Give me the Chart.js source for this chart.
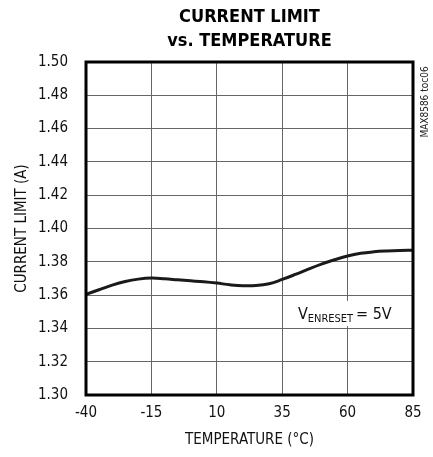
<!DOCTYPE html>
<html>
<head>
<meta charset="utf-8">
<script src="https://cdn.jsdelivr.net/npm/chart.js@4/dist/chart.umd.min.js"></script>
<style>
  html, body { margin: 0; padding: 0; background: #fff; }
  #wrap { width: 433px; height: 457px; position: relative; }
</style>
</head>
<body>
<div id="wrap"><canvas id="c" width="433" height="457"></canvas></div>
<script>
const FONT = '"Liberation Sans Narrow", "DejaVu Sans Condensed", "Arial Narrow", sans-serif';

// temperature (°C) and measured current limit (A)
const temps = [-40, -35, -30, -25, -20, -15, -10, -5, 0, 5, 10, 15, 20, 25, 30, 35, 40, 45, 50, 55, 60, 65, 70, 75, 80, 85];
const currentLimit = [1.3605, 1.3632, 1.3660, 1.3682, 1.3696, 1.3702, 1.3698, 1.3692, 1.3686, 1.3680, 1.3672, 1.3662, 1.3656, 1.3657, 1.3668, 1.3694, 1.3724, 1.3756, 1.3786, 1.3812, 1.3835, 1.3851, 1.3860, 1.3865, 1.3868, 1.3869];
const xTicks = [-40, -15, 10, 35, 60, 85];
const yTicks = [1.30, 1.32, 1.34, 1.36, 1.38, 1.40, 1.42, 1.44, 1.46, 1.48, 1.50];

const decorations = {
    id: 'decorations',
    afterDraw: (chart) => {
        const ctx = chart.ctx;
        const a = chart.chartArea;
        const xs = chart.scales.x, ys = chart.scales.y;
        ctx.save();

        // title
        ctx.fillStyle = '#000';
        ctx.textAlign = 'center';
        ctx.textBaseline = 'middle';
        ctx.font = 'bold 18px ' + FONT;
        const cx = (a.left + a.right) / 2;
        ctx.fillText('CURRENT LIMIT', cx, 17);
        ctx.fillText('vs. TEMPERATURE', cx, 41);

        // condition label box
        const bx = xs.getPixelForValue(38.7), by = ys.getPixelForValue(1.3565);
        const by2 = ys.getPixelForValue(1.3414);
        ctx.fillStyle = '#fff';
        ctx.fillRect(bx, by, a.right - bx, by2 - by);
        ctx.fillStyle = '#111';
        ctx.textAlign = 'left';
        ctx.textBaseline = 'alphabetic';
        const base = ys.getPixelForValue(1.3454);
        let tx = bx + 6;
        ctx.font = '16px ' + FONT;
        ctx.fillText('V', tx, base);
        tx += ctx.measureText('V').width;
        ctx.font = '11px ' + FONT;
        ctx.fillText('ENRESET', tx, base + 3);
        tx += ctx.measureText('ENRESET').width + 3;
        ctx.font = '16px ' + FONT;
        ctx.fillText('= 5V', tx, base);

        // plot frame
        ctx.strokeStyle = '#000';
        ctx.lineWidth = 3;
        ctx.strokeRect(a.left, a.top, a.right - a.left, a.bottom - a.top);

        // side id
        ctx.translate(a.right + 12, a.top + 40);
        ctx.rotate(-Math.PI / 2);
        ctx.font = '10px ' + FONT;
        ctx.textAlign = 'center';
        ctx.textBaseline = 'middle';
        ctx.fillStyle = '#222';
        ctx.fillText('MAX8586 toc06', 0, 0);
        ctx.restore();
    }
};

new Chart(document.getElementById('c'), {
    type: 'line',
    data: {
        datasets: [{
            data: temps.map((t, i) => ({ x: t, y: currentLimit[i] })),
            borderColor: '#1a1a1a',
            borderWidth: 3,
            pointRadius: 0,
            tension: 0.4,
            fill: false
        }]
    },
    options: {
        responsive: false,
        animation: false,
        devicePixelRatio: 1,
        layout: { padding: { top: 62, right: 20, left: 0, bottom: 0 } },
        plugins: {
            legend: { display: false },
            tooltip: { enabled: false }
        },
        scales: {
            x: {
                type: 'linear',
                min: -40, max: 85,
                afterBuildTicks: (s) => { s.ticks = xTicks.map(v => ({ value: v })); },
                afterFit: (s) => { s.height = 62; },
                grid: { color: '#666', lineWidth: 1, drawTicks: false },
                border: { display: false },
                ticks: {
                    color: '#111', padding: 9,
                    font: { family: FONT, size: 15 },
                    maxRotation: 0
                },
                title: {
                    display: true, text: 'TEMPERATURE (°C)', color: '#111',
                    font: { family: FONT, size: 15 },
                    padding: { top: 0, bottom: 8 }
                }
            },
            y: {
                min: 1.30, max: 1.50,
                afterBuildTicks: (s) => { s.ticks = yTicks.map(v => ({ value: v })); },
                afterFit: (s) => { s.width = 86; },
                grid: { color: '#666', lineWidth: 1, drawTicks: false },
                border: { display: false },
                ticks: {
                    color: '#111', padding: 18,
                    font: { family: FONT, size: 15 },
                    callback: (v) => v.toFixed(2)
                },
                title: {
                    display: true, text: 'CURRENT LIMIT (A)', color: '#111',
                    font: { family: FONT, size: 15 },
                    padding: { top: 13, bottom: 0 }
                }
            }
        }
    },
    plugins: [decorations]
});
</script>
</body>
</html>
